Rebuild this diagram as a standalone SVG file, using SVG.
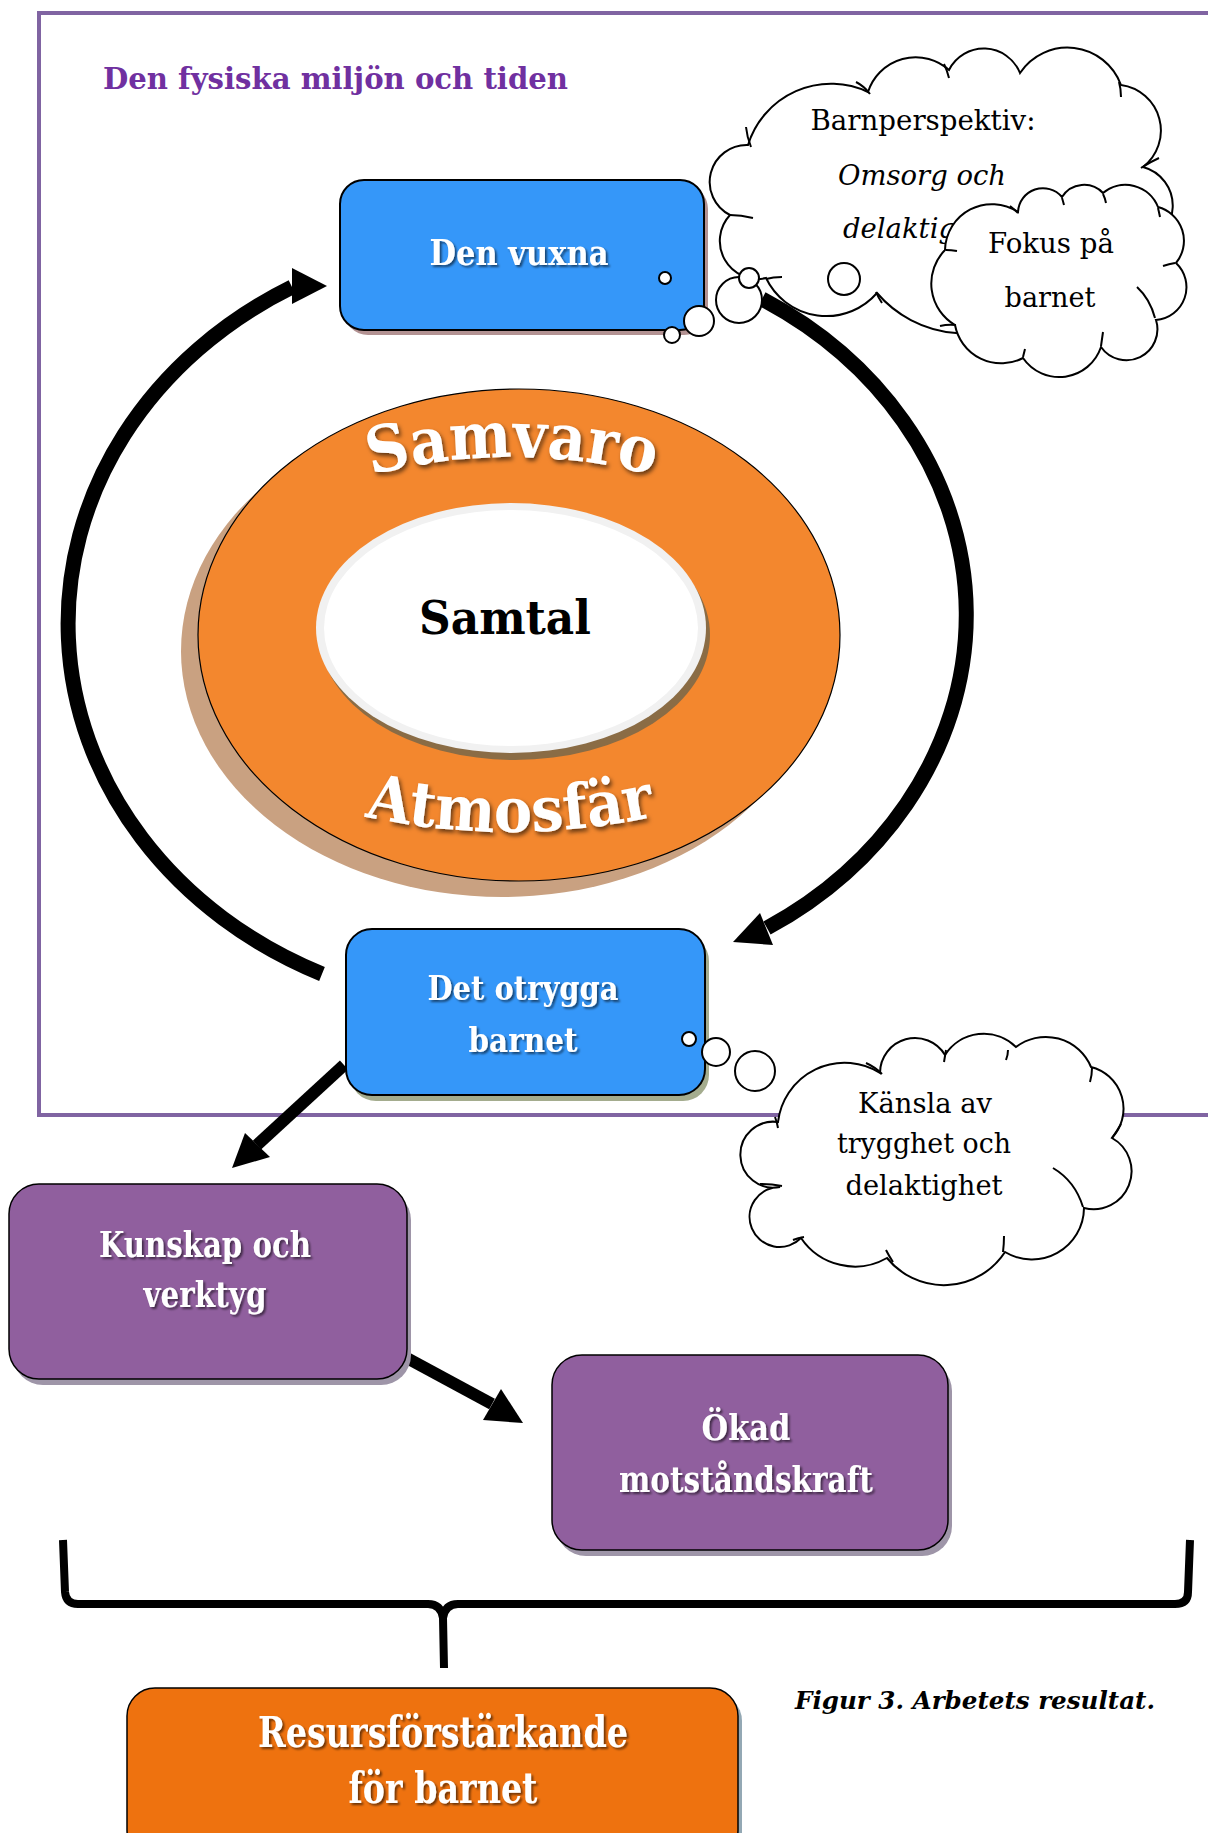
<svg xmlns="http://www.w3.org/2000/svg" width="1208" height="1833" viewBox="0 0 1208 1833">
<defs>
<style>
.bt{font-family:"DejaVu Serif","Liberation Serif",serif;font-weight:bold;fill:#fff;text-anchor:middle;filter:url(#ts)}
.ct{font-family:"DejaVu Serif","Liberation Serif",serif;fill:#000;text-anchor:middle;font-size:27px}
.cloud{fill:#fff;stroke:#000;stroke-width:2}
.hook{fill:none;stroke:#000;stroke-width:2}
.arc{fill:none;stroke:#000;stroke-width:15}
.shaft{stroke:#000;stroke-width:12;fill:none}
.head{fill:#000}
.big{font-family:"DejaVu Serif","Liberation Serif",serif;font-weight:bold;fill:#fff;filter:url(#ts2)}
</style>
<filter id="ts" x="-10%" y="-30%" width="120%" height="160%"><feDropShadow dx="2" dy="2" stdDeviation="1.2" flood-color="#000" flood-opacity="0.55"/></filter>
<filter id="ts2" x="-10%" y="-30%" width="120%" height="160%"><feDropShadow dx="2" dy="3" stdDeviation="2" flood-color="#000" flood-opacity="0.6"/></filter>
</defs>
<rect width="1208" height="1833" fill="#fff"/>

<g id="frame">
<path d="M 1215 13 L 39 13 L 39 1115 L 1215 1115" fill="none" stroke="#8064A2" stroke-width="4"/>
<text x="103" y="89" font-family="DejaVu Serif, Liberation Serif, serif" font-weight="bold" font-size="29" fill="#7030A0" textLength="465" lengthAdjust="spacingAndGlyphs">Den fysiska miljön och tiden</text>
</g>

<g id="samvaro">
<ellipse cx="502" cy="651" rx="321" ry="246" fill="#C9A181"/>
<ellipse cx="519" cy="635" rx="321" ry="246" fill="#F3872E" stroke="#000" stroke-width="1.2"/>
<ellipse cx="515" cy="635" rx="195" ry="125" fill="#8A6C45"/>
<ellipse cx="511" cy="628" rx="195" ry="125" fill="#F1F1F1"/>
<ellipse cx="511" cy="628" rx="187" ry="118" fill="#fff"/>
<path id="pSam" d="M 357 479 A 561 561 0 0 1 667 479" fill="none"/>
<path id="pAtm" d="M 350 813 A 689 689 0 0 0 670 813" fill="none"/>
<text class="big" font-size="64"><textPath href="#pSam" startOffset="50%" text-anchor="middle" textLength="285" lengthAdjust="spacingAndGlyphs">Samvaro</textPath></text>
<text class="big" font-size="62"><textPath href="#pAtm" startOffset="50%" text-anchor="middle" textLength="293" lengthAdjust="spacingAndGlyphs">Atmosfär</textPath></text>
<text x="505" y="634" font-family="DejaVu Serif, Liberation Serif, serif" font-weight="bold" font-size="46" text-anchor="middle" textLength="172" lengthAdjust="spacingAndGlyphs">Samtal</text>
</g>

<g id="connectors">
<path class="arc" d="M 322 974 A 438 386 0 0 1 292 287"/>
<polygon class="head" points="292,268 327,286 292,304"/>
<path class="arc" d="M 762 299 A 423 369 0 0 1 767 928"/>
<polygon class="head" points="760,913 733,942 773,945"/>
<line class="shaft" x1="344" y1="1065" x2="257" y2="1145"/>
<polygon class="head" points="245,1133 270,1157 232,1168"/>
<line class="shaft" x1="405" y1="1357" x2="492" y2="1404"/>
<polygon class="head" points="501,1389 483,1420 523,1423"/>
</g>

<g id="den-vuxna">
<rect x="344" y="185" width="364" height="150" rx="24" fill="#B39292"/>
<rect x="340" y="180" width="364" height="150" rx="24" fill="#3597F9" stroke="#000" stroke-width="2"/>
<text class="bt" x="519" y="265" font-size="36" textLength="179" lengthAdjust="spacingAndGlyphs">Den vuxna</text>
</g>

<g id="det-otrygga-barnet">
<rect x="350" y="935" width="359" height="166" rx="26" fill="#A4AC8E"/>
<rect x="346" y="929" width="359" height="166" rx="26" fill="#3597F9" stroke="#000" stroke-width="2"/>
<text class="bt" x="523" y="1000" font-size="34" textLength="191" lengthAdjust="spacingAndGlyphs">Det otrygga</text>
<text class="bt" x="523" y="1052" font-size="34" textLength="109" lengthAdjust="spacingAndGlyphs">barnet</text>
</g>

<g id="kunskap">
<rect x="13" y="1190" width="398" height="195" rx="30" fill="#9E95A8"/>
<rect x="9" y="1184" width="398" height="195" rx="30" fill="#905F9E" stroke="#000" stroke-width="1.5"/>
<text class="bt" x="205" y="1257" font-size="35" textLength="212" lengthAdjust="spacingAndGlyphs">Kunskap och</text>
<text class="bt" x="205" y="1307" font-size="35" textLength="123" lengthAdjust="spacingAndGlyphs">verktyg</text>
</g>

<g id="okad">
<rect x="556" y="1361" width="396" height="195" rx="30" fill="#9E95A8"/>
<rect x="552" y="1355" width="396" height="195" rx="30" fill="#905F9E" stroke="#000" stroke-width="1.5"/>
<text class="bt" x="746" y="1440" font-size="35" textLength="89" lengthAdjust="spacingAndGlyphs">Ökad</text>
<text class="bt" x="746" y="1492" font-size="35" textLength="254" lengthAdjust="spacingAndGlyphs">motståndskraft</text>
</g>

<g id="brace">
<path d="M 63 1540 L 65 1592 Q 66 1604 78 1604 L 428 1604 Q 441 1604 443 1618 L 444 1668 M 443 1618 Q 445 1604 458 1604 L 1175 1604 Q 1188 1604 1188 1592 L 1190 1540" fill="none" stroke="#000" stroke-width="8" stroke-linejoin="round"/>
</g>

<g id="resurs">
<rect x="131" y="1693" width="611" height="170" rx="28" fill="#93A8B4"/>
<rect x="127" y="1688" width="611" height="170" rx="28" fill="#EE720F" stroke="#000" stroke-width="1.5"/>
<text class="bt" x="443" y="1747" font-size="42" textLength="370" lengthAdjust="spacingAndGlyphs">Resursförstärkande</text>
<text class="bt" x="443" y="1803" font-size="42" textLength="189" lengthAdjust="spacingAndGlyphs">för barnet</text>
</g>

<g id="caption">
<text x="795" y="1709" font-family="DejaVu Serif, Liberation Serif, serif" font-weight="bold" font-style="italic" font-size="25" textLength="360" lengthAdjust="spacingAndGlyphs">Figur 3. Arbetets resultat.</text>
</g>

<g id="cloud-barnperspektiv">
<path class="cloud" d="M 730 215 A 37 37 0 0 1 748 145 A 87 87 0 0 1 868 92 A 50 50 0 0 1 949 70 A 39 39 0 0 1 1020 73 A 57 57 0 0 1 1121 85 A 46 46 0 0 1 1143 167 A 40 40 0 0 1 1140 245 A 72 72 0 0 1 1040 305 A 115 115 0 0 1 877 293 A 67 67 0 0 1 766 278 A 38 38 0 0 1 730 215 Z"/>
<path class="hook" d="M 746 127 Q 747 137 751 147 M 856 82 Q 864 86 870 94 M 944 64 Q 947 70 949 78 M 1119 82 Q 1121 89 1121 97 M 1141 168 Q 1150 162 1159 158 M 876 292 Q 878 297 882 303 M 766 279 Q 773 277 782 277 M 730 215 Q 741 215 753 218"/>
<circle class="cloud" cx="665" cy="278" r="6"/>
<circle class="cloud" cx="672" cy="335" r="8"/>
<circle class="cloud" cx="699" cy="321" r="15"/>
<circle class="cloud" cx="739" cy="300" r="23"/>
<circle class="cloud" cx="749" cy="278" r="10"/>
<circle class="cloud" cx="844" cy="279" r="16"/>
<text class="ct" x="923" y="130" textLength="225" lengthAdjust="spacingAndGlyphs">Barnperspektiv:</text>
<text class="ct" x="922" y="185" font-style="italic" textLength="168" lengthAdjust="spacingAndGlyphs">Omsorg och</text>
<text class="ct" x="843" y="238" font-style="italic" style="text-anchor:start" textLength="113" lengthAdjust="spacingAndGlyphs">delaktig</text>
</g>

<g id="cloud-fokus">
<path class="cloud" d="M 955 325 A 48 48 0 0 1 945 250 A 47 47 0 0 1 1018 212 A 25 25 0 0 1 1062 197 A 26 26 0 0 1 1103 193 A 35 35 0 0 1 1158 207 A 35 35 0 0 1 1176 263 A 33 33 0 0 1 1156 320 A 31 31 0 0 1 1101 347 A 44 44 0 0 1 1023 358 A 47 47 0 0 1 955 325 Z"/>
<path class="hook" d="M 1018 213 Q 1014 209 1010 206 M 1062 198 Q 1063 201 1064 205 M 1103 194 Q 1105 198 1106 203 M 1158 208 Q 1159 212 1160 217 M 1175 263 Q 1169 264 1163 266 M 1137 287 Q 1150 299 1155 318 M 1101 346 Q 1102 339 1103 332 M 1023 357 Q 1024 353 1025 349 M 956 325 Q 948 324 940 326 M 946 250 Q 951 250 957 251"/>
<text class="ct" x="1051" y="253" textLength="126" lengthAdjust="spacingAndGlyphs">Fokus på</text>
<text class="ct" x="1050" y="307" textLength="91" lengthAdjust="spacingAndGlyphs">barnet</text>
</g>

<g id="cloud-kansla">
<circle class="cloud" cx="689" cy="1039" r="7"/>
<circle class="cloud" cx="716" cy="1052" r="14"/>
<circle class="cloud" cx="755" cy="1071" r="20"/>
<path class="cloud" d="M 778 1122 A 67 67 0 0 1 880 1073 A 35 35 0 0 1 945 1055 A 46 46 0 0 1 1016 1047 A 49 49 0 0 1 1091 1067 A 43 43 0 0 1 1112 1138 A 38 38 0 0 1 1084 1208 A 52 52 0 0 1 1005 1252 A 73 73 0 0 1 887 1258 A 65 65 0 0 1 801 1238 A 30 30 0 1 1 780 1187 A 33 33 0 1 1 778 1122 Z"/>
<path class="hook" d="M 866 1063 Q 875 1067 882 1074 M 946 1050 Q 945 1056 944 1062 M 1008 1050 Q 1008 1055 1006 1060 M 1092 1068 Q 1092 1075 1090 1082 M 1112 1138 Q 1117 1131 1121 1124 M 1053 1168 Q 1075 1181 1083 1207 M 1004 1236 Q 1004 1244 1003 1252 M 886 1250 Q 889 1256 893 1262 M 793 1240 Q 798 1238 804 1237 M 760 1184 Q 771 1184 782 1186 M 775 1117 Q 777 1122 778 1128"/>
<text class="ct" x="925" y="1113" textLength="134" lengthAdjust="spacingAndGlyphs">Känsla av</text>
<text class="ct" x="924" y="1153" textLength="174" lengthAdjust="spacingAndGlyphs">trygghet och</text>
<text class="ct" x="924" y="1195" textLength="157" lengthAdjust="spacingAndGlyphs">delaktighet</text>
</g>
</svg>
